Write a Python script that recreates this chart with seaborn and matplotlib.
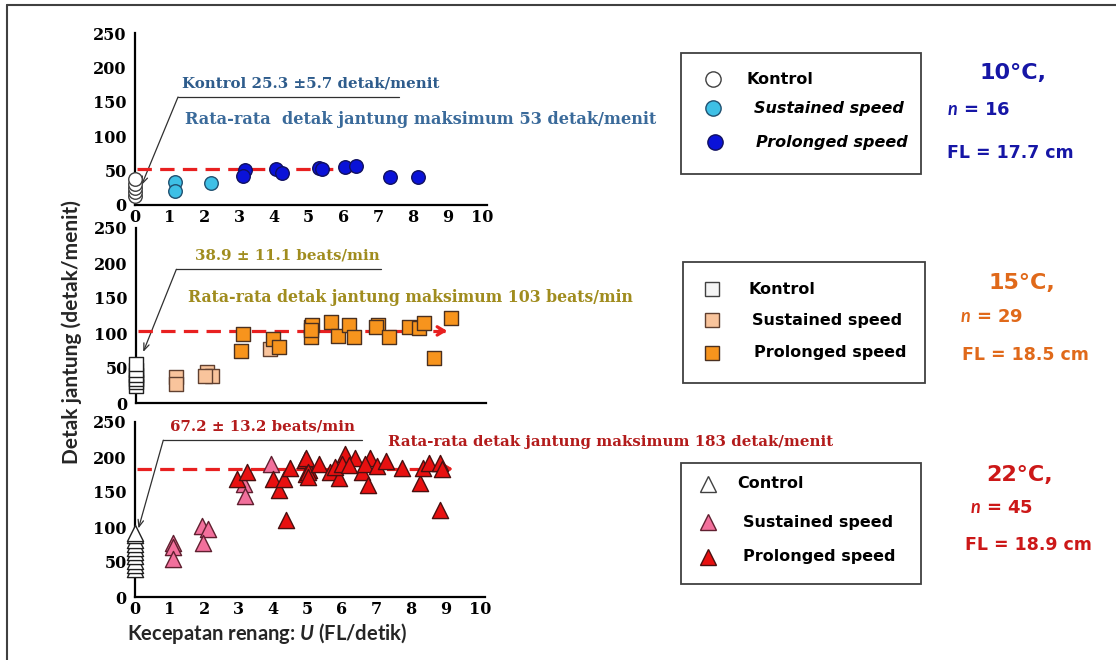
import matplotlib
matplotlib.use("Agg")
import matplotlib.pyplot as plt
from matplotlib.lines import Line2D
from matplotlib.patches import Rectangle
import seaborn as sns

# ---------------- data ----------------
# 10 °C
p10_ctrl_y = [13, 19, 25, 31, 38]
p10_sus_x = [1.15, 1.15, 2.2]
p10_sus_y = [34, 21, 32]
p10_pro_x = [3.17, 3.12, 4.06, 4.24, 5.31, 5.38, 6.05, 6.37, 7.35, 8.16]
p10_pro_y = [51, 42, 52, 46, 54, 53, 55, 57, 41, 41]
p10_max = 53

# 15 °C
p15_ctrl_y = [25, 30, 35, 40, 47, 56]
p15_sus_x = [1.17, 1.17, 2.05, 2.2, 2.0, 3.88]
p15_sus_y = [37, 27, 44, 39, 38, 77]
p15_pro_x = [3.11, 3.03, 3.98, 4.15, 5.06, 5.06, 5.11, 5.06, 5.64, 5.85,
             6.17, 6.31, 7.0, 6.95, 7.32, 7.9, 8.21, 8.36, 8.65, 9.13]
p15_pro_y = [99, 75, 91, 80, 108, 94, 111, 105, 116, 96,
             111, 95, 111, 108, 95, 109, 107, 115, 65, 121]
p15_max = 103

# 22 °C
p22_ctrl_y = [40, 46, 52, 58, 64, 70, 76, 82, 88, 92]
p22_sus_x = [1.11, 1.1, 1.11, 1.93, 2.13, 1.98, 3.16, 3.19, 3.93]
p22_sus_y = [77, 72, 55, 101, 97, 77, 162, 144, 190]
p22_pro_x = [2.97, 3.26, 3.99, 4.18, 4.32, 4.49, 4.39, 4.94, 5.05, 4.97,
             4.97, 5.02, 5.02, 5.34, 5.65, 5.92, 5.79, 6.09, 6.0, 6.38,
             6.2, 6.57, 6.81, 6.67, 6.76, 7.02, 7.28, 7.73, 8.26, 8.36,
             8.53, 8.84, 8.9, 8.84]
p22_pro_y = [168, 179, 168, 153, 168, 185, 110, 196, 182, 176,
             198, 179, 172, 190, 179, 170, 186, 204, 190, 198,
             189, 179, 198, 190, 160, 187, 195, 184, 163, 184,
             191, 191, 183, 124]
p22_max = 183

x_ticks = [0, 1, 2, 3, 4, 5, 6, 7, 8, 9, 10]
y_ticks = [0, 50, 100, 150, 200, 250]

# ---------------- style ----------------
sns.set_style("white")
plt.rcParams["font.family"] = ["DejaVu Sans"]
plt.rcParams["mathtext.fontset"] = "custom"
plt.rcParams["mathtext.it"] = "Lato:bold:italic"
plt.rcParams["mathtext.rm"] = "Lato:bold"

W, H = 1116, 660
fig = plt.figure(figsize=(W / 100, H / 100), dpi=100)

def fx(px):
    return px / W

def fy(py):
    return 1 - py / H

XMAX = 10.15
def make_axes(x0, y0_px, ytop_px, x10_px):
    width = (x10_px - x0) / 10 * XMAX
    return fig.add_axes([fx(x0), fy(y0_px), width / W, (y0_px - ytop_px) / H])

ax1 = make_axes(135, 205, 33, 482)
ax2 = make_axes(136, 403, 228, 481)
ax3 = make_axes(135, 597, 422, 480)

tick_font = dict(family="DejaVu Serif", weight="bold", size=11.5)

for ax in (ax1, ax2, ax3):
    ax.set_xlim(0, XMAX)
    ax.set_ylim(0, 250)
    ax.set_xticks(x_ticks)
    ax.set_yticks(y_ticks)
    for s in ("top", "right"):
        ax.spines[s].set_visible(False)
    for s in ("left", "bottom"):
        ax.spines[s].set_linewidth(1.6)
        ax.spines[s].set_color("black")
    ax.tick_params(direction="in", length=4, width=1.4, colors="black")
    ax.tick_params(axis="y", pad=6)
    ax.tick_params(axis="x", pad=3)
    for lab in ax.get_xticklabels() + ax.get_yticklabels():
        lab.set_fontproperties(tick_font)
    ax.set_facecolor("none")
    ax.patch.set_alpha(0)

ax2.tick_params(axis="x", labelbottom=False)


def panel(ax, marker, ms, ctrl_y, sus_x, sus_y, pro_x, pro_y,
          ctrl_edge, sus_col, sus_edge, pro_col, pro_edge):
    sns.scatterplot(x=[0.0] * len(ctrl_y), y=ctrl_y, ax=ax, marker=marker, s=ms,
                    color="white", edgecolor=ctrl_edge, linewidth=1.0,
                    clip_on=False, zorder=4)
    sns.scatterplot(x=sus_x, y=sus_y, ax=ax, marker=marker, s=ms,
                    color=sus_col, edgecolor=sus_edge, linewidth=1.0,
                    clip_on=False, zorder=4)
    sns.scatterplot(x=pro_x, y=pro_y, ax=ax, marker=marker, s=ms,
                    color=pro_col, edgecolor=pro_edge, linewidth=1.0,
                    clip_on=False, zorder=5)


RED = "#e82020"

def max_line(ax, y, x_end):
    ax.plot([0.05, x_end - 0.15], [y, y], color=RED, lw=2.3,
            ls=(0, (4.5, 2.6)), zorder=3, clip_on=False)
    ax.annotate("", xy=(x_end, y), xytext=(x_end - 0.4, y),
                arrowprops=dict(arrowstyle="->,head_length=0.5,head_width=0.3",
                                color=RED, lw=2.3), zorder=3)


def callout(ax, x_right, x_left, y_line, x_tip, y_tip):
    ax.plot([x_right, x_left], [y_line, y_line], color="#303030", lw=0.9,
            clip_on=False, zorder=2)
    ax.annotate("", xy=(x_tip, y_tip), xytext=(x_left, y_line),
                arrowprops=dict(arrowstyle="->,head_length=0.5,head_width=0.2",
                                color="#303030", lw=0.9, shrinkA=0, shrinkB=0),
                zorder=2)


ann_font = dict(family="DejaVu Serif", weight="bold")

# ---- 10 °C panel ----
max_line(ax1, p10_max, 6.5)
panel(ax1, "o", 95, p10_ctrl_y, p10_sus_x, p10_sus_y, p10_pro_x, p10_pro_y,
      "#404040", "#3ec0e6", "#205070", "#0a12d8", "#101060")
callout(ax1, 7.6, 1.24, 157, 0.19, 29)
ax1.text(1.35, 177, "Kontrol 25.3 \u00b15.7 detak/menit", color="#2e5c8c",
         va="center", ha="left", size=10.8, **ann_font)
ax1.text(1.44, 124, "Rata-rata  detak jantung maksimum 53 detak/menit",
         color="#3a6a9a", va="center", ha="left", size=11.6, **ann_font)

# ---- 15 °C panel ----
max_line(ax2, p15_max, 9.1)
panel(ax2, "s", 115, p15_ctrl_y, p15_sus_x, p15_sus_y, p15_pro_x, p15_pro_y,
      "#202020", "#f9c49c", "#604030", "#f7941d", "#4a3020")
callout(ax2, 7.1, 1.17, 191, 0.21, 73)
ax2.text(1.7, 211, "38.9 \u00b1 11.1 beats/min", color="#a08c1e",
         va="center", ha="left", size=10.8, **ann_font)
ax2.text(1.51, 151, "Rata-rata detak jantung maksimum 103 beats/min",
         color="#a08c1e", va="center", ha="left", size=11.3, **ann_font)

# ---- 22 °C panel ----
max_line(ax3, p22_max, 9.3)
panel(ax3, "^", 135, p22_ctrl_y, p22_sus_x, p22_sus_y, p22_pro_x, p22_pro_y,
      "#202020", "#f2709c", "#602030", "#e81010", "#4a1010")
callout(ax3, 6.57, 0.82, 224, 0.1, 98)
ax3.text(1.01, 243, "67.2 \u00b1 13.2 beats/min", color="#b31b1b",
         va="center", ha="left", size=10.8, **ann_font)
ax3.text(7.34, 222, "Rata-rata detak jantung maksimum 183 detak/menit",
         color="#b31b1b", va="center", ha="left", size=10.8, **ann_font)

# ---------------- axis titles ----------------
fig.text(fx(72), fy(332), "Detak jantung (detak/menit)", rotation=90,
         ha="center", va="center", family="Lato", weight="bold", fontsize=15)
fig.text(fx(127), fy(633), r"Kecepatan renang: $\mathit{U}$ (FL/detik)",
         ha="left", va="center", family="Lato", weight="bold", fontsize=14.5)

# ---------------- legends ----------------
def legend_box(x0, y0, x1, y1, rows):
    fig.add_artist(Rectangle((fx(x0), fy(y1)), fx(x1 - x0), (y1 - y0) / H,
                             transform=fig.transFigure, fill=False,
                             edgecolor="#404040", lw=1.3))
    for (mx, ty, marker, ms, fc, ec, tx, label, italic) in rows:
        fig.add_artist(Line2D([fx(mx)], [fy(ty)], marker=marker, markersize=ms,
                              markerfacecolor=fc, markeredgecolor=ec,
                              markeredgewidth=1.0, linestyle="none",
                              transform=fig.transFigure))
        fig.text(fx(tx), fy(ty), label, ha="left", va="center",
                 weight="bold", style="italic" if italic else "normal",
                 fontsize=11.5, color="black")

legend_box(681, 53, 921, 174, [
    (713, 79, "o", 11, "white", "#404040", 747, "Kontrol", False),
    (713, 108, "o", 11, "#3ec0e6", "#205070", 754, "Sustained speed", True),
    (715, 142, "o", 11, "#0a12d8", "#101060", 756, "Prolonged speed", True),
])
legend_box(683, 262, 925, 383, [
    (712, 289, "s", 10, "#f4f4f4", "#404040", 748, "Kontrol", False),
    (712, 320, "s", 10, "#f9c49c", "#604030", 752, "Sustained speed", False),
    (712, 353, "s", 10, "#f7941d", "#4a3020", 754, "Prolonged speed", False),
])
legend_box(681, 463, 921, 584, [
    (708, 484, "^", 12, "white", "#404040", 737, "Control", False),
    (708, 522, "^", 12, "#f2709c", "#602030", 743, "Sustained speed", False),
    (708, 557, "^", 12, "#e81010", "#4a1010", 743, "Prolonged speed", False),
])

# ---------------- group descriptions ----------------
def group_text(cx, ty, nx, ny, flx, fly, temp, n, fl, color):
    fig.text(fx(cx), fy(ty), temp, ha="center", va="center", weight="bold",
             fontsize=16, color=color)
    fig.text(fx(nx), fy(ny), r"$\mathit{n}$ = " + n, ha="left", va="center",
             weight="bold", fontsize=13, color=color)
    fig.text(fx(flx), fy(fly), "FL = " + fl, ha="left", va="center",
             weight="bold", fontsize=12.5, color=color)

group_text(1013, 73, 947, 110, 947, 153, "10\u00b0C,", "16", "17.7 cm", "#1616a6")
group_text(1022, 283, 960, 317, 962, 355, "15\u00b0C,", "29", "18.5 cm", "#e0691a")
group_text(1020, 475, 970, 508, 965, 545, "22\u00b0C,", "45", "18.9 cm", "#cc1818")

# frame edges along the top and left
fig.add_artist(Line2D([fx(7), 1], [fy(5), fy(5)], color="#404040", lw=1.5,
                      transform=fig.transFigure))
fig.add_artist(Line2D([fx(7), fx(7)], [0, fy(5)], color="#404040", lw=1.5,
                      transform=fig.transFigure))

fig.savefig("out.png", dpi=100, facecolor="white")
